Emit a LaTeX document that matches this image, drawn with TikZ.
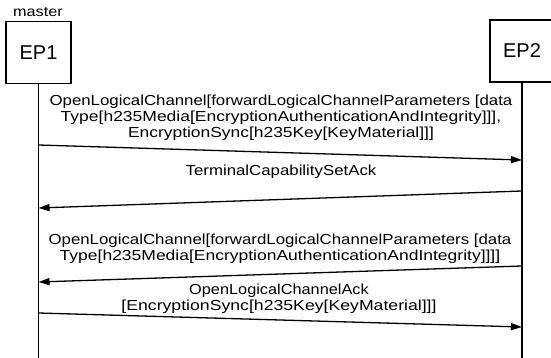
\documentclass[tikz,border=0pt]{standalone}
\usepackage{fontspec}
\usepackage{graphicx}
\setmainfont{Liberation Sans}[FakeStretch=1.16]
\newfontfamily\epfont{Liberation Sans}
\usetikzlibrary{arrows.meta}
% horizontal fit of a single label line
\newcommand\hfitline[2]{\scalebox{#1}[1]{#2}}
\begin{document}
\begin{tikzpicture}[x=1pt,y=-1pt,
  party/.style={draw,line width=1.6pt,minimum width=65pt,minimum height=62pt,
    inner sep=0pt,font=\epfont\fontsize{20}{22}\selectfont},
  lifeline/.style={line width=1.6pt},
  msg/.style={line width=1.3pt,-{Triangle[length=11pt,width=7pt]}},
  msgtext/.style={align=center,inner sep=0pt,
    font=\fontsize{14.5}{15.8}\selectfont}]
\useasboundingbox (0,0) rectangle (551,358);

% parties
\node[party] (ep1) at (38.5,52.5) {EP1};
\node[party,minimum width=64pt] (ep2) at (522,51) {EP2};
\node[font=\fontsize{14}{16}\selectfont,inner sep=0pt,anchor=base] (mst) at (38,17) {master};

% lifelines
\coordinate (end1) at (38.5,360);
\coordinate (end2) at (522,360);
\draw[lifeline] (ep1.south) -- (end1);
\draw[lifeline] (ep2.south) -- (end2);

% message end points on the lifelines
\coordinate (m1a) at (38.5,145);  \coordinate (m1b) at (522,160);
\coordinate (m2a) at (522,191);   \coordinate (m2b) at (38.5,208);
\coordinate (m3a) at (522,266);   \coordinate (m3b) at (38.5,282);
\coordinate (m4a) at (38.5,313);  \coordinate (m4b) at (522,327);

\draw[msg] (m1a) -- (m1b);
\draw[msg] (m2a) -- (m2b);
\draw[msg] (m3a) -- (m3b);
\draw[msg] (m4a) -- (m4b);

% message labels
\node[msgtext] (t1) at (281,118)
  {OpenLogicalChannel[forwardLogicalChannelParameters [data\\
   \hfitline{1.04}{Type[h235Media[EncryptionAuthenticationAndIntegrity]]],}\\
   \hfitline{1.035}{EncryptionSync[h235Key[KeyMaterial]]]}};
\node[msgtext] (t2) at (281,172) {TerminalCapabilitySetAck};
\node[msgtext] (t3) at (280,249)
  {OpenLogicalChannel[forwardLogicalChannelParameters [data\\
   \hfitline{1.04}{Type[h235Media[EncryptionAuthenticationAndIntegrity]]]]}};
\node[msgtext] (t4) at (279,299)
  {\hfitline{0.97}{OpenLogicalChannelAck}\\
   \hfitline{1.05}{[EncryptionSync[h235Key[KeyMaterial]]]}};
\end{tikzpicture}
\end{document}
